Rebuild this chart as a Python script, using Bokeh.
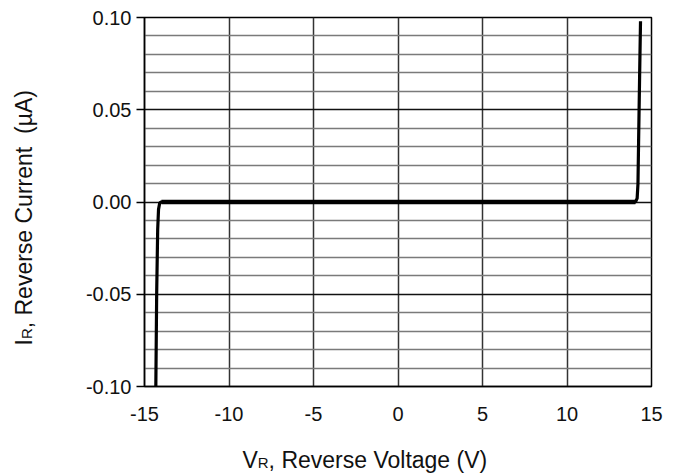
import math
from bokeh.plotting import figure
from bokeh.models import FixedTicker, NumeralTickFormatter, Label
from bokeh.embed import file_html
from bokeh.resources import INLINE

# ---- data ----
vr = [-14.33, -14.28, -14.22, -14.17, -14.10, -14.00, -10.0, -5.0, 0.0, 5.0, 10.0,
      14.05, 14.15, 14.20, 14.24, 14.30, 14.35]
ir = [-0.100, -0.050, -0.015, -0.004, -0.0005, 0.0, 0.0, 0.0, 0.0, 0.0, 0.0,
      0.0, 0.002, 0.010, 0.035, 0.070, 0.098]

x_ticks = [-15, -10, -5, 0, 5, 10, 15]
y_ticks = [-0.10, -0.05, 0.00, 0.05, 0.10]
y_minor_ticks = [-0.09, -0.08, -0.07, -0.06, -0.04, -0.03, -0.02, -0.01,
                 0.01, 0.02, 0.03, 0.04, 0.06, 0.07, 0.08, 0.09]

x_title_main = "V"
x_title_sub = "R"
x_title_rest = ", Reverse Voltage (V)"
y_title_main = "I"
y_title_sub = "R"
y_title_rest = ", Reverse Current \u00a0(\u00b5A)"

FONT = "Liberation Sans"
TXT = "#111111"

p = figure(width=670, height=474, x_range=(-15, 15), y_range=(-0.1, 0.1),
           output_backend="svg", toolbar_location=None,
           min_border_left=144, min_border_right=19, min_border_top=17, min_border_bottom=88)
p.background_fill_color = "white"
p.border_fill_color = "white"
p.outline_line_color = "black"
p.outline_line_width = 1.5

# axes
p.xaxis.ticker = FixedTicker(ticks=x_ticks)
p.xaxis.formatter = NumeralTickFormatter(format="0")
p.yaxis.ticker = FixedTicker(ticks=y_ticks, minor_ticks=y_minor_ticks)
p.yaxis.formatter = NumeralTickFormatter(format="0.00")
for ax in (p.xaxis, p.yaxis):
    ax.axis_line_color = "black"
    ax.axis_line_width = 1.5
    ax.major_label_text_font = FONT
    ax.major_label_text_font_size = "20px"
    ax.major_label_text_color = TXT
    ax.minor_tick_line_color = None
    ax.major_tick_in = 0
p.xaxis.major_tick_out = 0
p.xaxis.major_label_standoff = 20
p.yaxis.major_tick_out = 8
p.yaxis.major_tick_line_color = "black"
p.yaxis.major_tick_line_width = 1.5
p.yaxis.major_label_standoff = 5

# grid
p.xgrid.ticker = FixedTicker(ticks=x_ticks)
p.xgrid.grid_line_color = "#333333"
p.xgrid.grid_line_width = 1.5
p.ygrid.ticker = FixedTicker(ticks=y_ticks, minor_ticks=y_minor_ticks)
p.ygrid.grid_line_color = "#111111"
p.ygrid.grid_line_width = 1.5
p.ygrid.minor_grid_line_color = "#7a7a7a"
p.ygrid.minor_grid_line_width = 1.4

# curve
p.line(vr, ir, line_color="black", line_width=3.2)
flat_idx = [i for i, v in enumerate(ir) if v == 0.0]
p.line([vr[i] for i in flat_idx], [ir[i] for i in flat_idx], line_color="black", line_width=4.5)


def lab(text, x, y, size, angle=0.0):
    return Label(x=x, y=y, x_units="canvas", y_units="canvas", text=text, angle=angle,
                 text_font=FONT, text_font_size=size, text_color=TXT, text_baseline="alphabetic")


# x title (with subscript) -- canvas units, placed in side panels so it is not clipped
x0, yb = 242, 459
p.add_layout(lab(x_title_main, x0, yb, "23px"), "right")
p.add_layout(lab(x_title_sub, x0 + 15.3, yb + 2.5, "15px"), "above")
p.add_layout(lab(x_title_rest, x0 + 26.1, yb, "23px"), "below")

# y title (rotated, with subscript)
xb, y0 = 23, 345
ang = math.pi / 2
p.add_layout(lab(y_title_main, xb, y0, "23px", ang), "left")
p.add_layout(lab(y_title_sub, xb + 2.5, y0 - 6.4, "15px", ang), "left")
p.add_layout(lab(y_title_rest, xb, y0 - 17.2, "23px", ang), "left")

open("out.html", "w").write(file_html(p, INLINE))
